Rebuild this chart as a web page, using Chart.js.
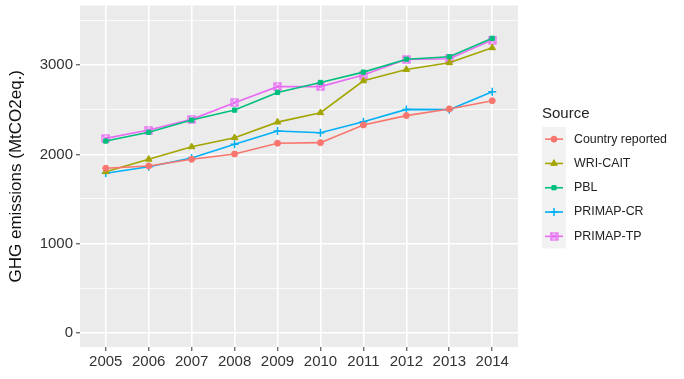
<!DOCTYPE html>
<html>
<head>
<meta charset="utf-8">
<script src="https://cdn.jsdelivr.net/npm/chart.js@4/dist/chart.umd.min.js"></script>
<style>
  body { margin: 0; background: #fff; }
  #wrap { width: 684px; height: 379px; }
</style>
</head>
<body>
<div id="wrap"><canvas id="ghgChart" width="684" height="379"></canvas></div>
<script>
// years on the x axis
const years = [2005, 2006, 2007, 2008, 2009, 2010, 2011, 2012, 2013, 2014];

// series values (MtCO2eq.)
const countryReported = [1845, 1870, 1945, 2005, 2125, 2132, 2330, 2435, 2510, 2602];
const wriCait = [1806, 1945, 2085, 2187, 2362, 2467, 2825, 2952, 3028, 3196];
const pbl = [2150, 2248, 2385, 2497, 2695, 2807, 2923, 3068, 3095, 3302];
const primapCr = [1788, 1862, 1960, 2113, 2262, 2243, 2366, 2505, 2502, 2702];
const primapTp = [2180, 2273, 2393, 2580, 2760, 2760, 2890, 3066, 3072, 3282];

const seriesNames = ['Country reported', 'WRI-CAIT', 'PBL', 'PRIMAP-CR', 'PRIMAP-TP'];
const seriesColors = ['#F8766D', '#A3A500', '#00BF7D', '#00B0F6', '#E76BF3'];

// y ticks (labelled every 1000, minor grid every 500)
const yTicks = [0, 500, 1000, 1500, 2000, 2500, 3000, 3500];

const fontFamily = '"Liberation Sans", Arial, sans-serif';

// ggplot shape 7: square with a cross inside
function boxCross(color) {
    const c = document.createElement('canvas');
    c.width = 9;
    c.height = 9;
    const g = c.getContext('2d');
    g.strokeStyle = color;
    g.lineWidth = 1.2;
    g.strokeRect(1, 1, 7, 7);
    g.beginPath();
    g.moveTo(1, 1); g.lineTo(8, 8);
    g.moveTo(8, 1); g.lineTo(1, 8);
    g.stroke();
    return c;
}

const pointStyles = ['circle', 'triangle', 'rect', 'cross', boxCross('#E76BF3')];
const pointRadii = [3, 3.8, 3, 4, 4];

const allValues = [countryReported, wriCait, pbl, primapCr, primapTp];

const datasets = seriesNames.map((name, i) => ({
    label: name,
    data: years.map((y, j) => ({ x: y, y: allValues[i][j] })),
    borderColor: seriesColors[i],
    backgroundColor: seriesColors[i],
    borderWidth: 1.6,
    pointStyle: pointStyles[i],
    pointRadius: pointRadii[i],
    pointBorderWidth: i === 3 ? 1.5 : 1,
    tension: 0,
}));

// grey panel behind the lines
const panelBg = {
    id: 'panelBg',
    beforeDraw(chart) {
        const { ctx, chartArea } = chart;
        ctx.save();
        ctx.fillStyle = '#EBEBEB';
        ctx.fillRect(chartArea.left, chartArea.top, chartArea.right - chartArea.left, chartArea.bottom - chartArea.top);
        ctx.restore();
    },
};

// ggplot-like legend on the right
const sideLegend = {
    id: 'sideLegend',
    afterDraw(chart) {
        const ctx = chart.ctx;
        const keyX = 542, keyW = 24, top = 127, rowH = 24.3;
        ctx.save();
        ctx.fillStyle = '#222';
        ctx.font = '15px ' + fontFamily;
        ctx.textBaseline = 'alphabetic';
        ctx.fillText('Source', 542, 118);

        ctx.fillStyle = '#F2F2F2';
        ctx.fillRect(keyX, top, keyW, rowH * seriesNames.length);

        chart.data.datasets.forEach((ds, i) => {
            const cy = top + rowH * i + rowH / 2;
            ctx.strokeStyle = ds.borderColor;
            ctx.lineWidth = 1.6;
            ctx.beginPath();
            ctx.moveTo(keyX + 3, cy);
            ctx.lineTo(keyX + keyW - 3, cy);
            ctx.stroke();
            ctx.fillStyle = ds.backgroundColor;
            ctx.lineWidth = ds.pointBorderWidth;
            Chart.helpers.drawPoint(ctx, {
                pointStyle: ds.pointStyle,
                radius: ds.pointRadius,
                rotation: 0,
                borderWidth: ds.pointBorderWidth,
            }, keyX + keyW / 2, cy);

            ctx.fillStyle = '#222';
            ctx.font = '12.4px ' + fontFamily;
            ctx.textBaseline = 'middle';
            ctx.fillText(ds.label, 574, cy);
        });
        ctx.restore();
    },
};

document.addEventListener('DOMContentLoaded', () => {
    const canvasElement = document.getElementById('ghgChart');
    const ctxChart = canvasElement.getContext('2d');

    new Chart(ctxChart, {
        type: 'line',
        data: { datasets: datasets },
        options: {
            responsive: false,
            animation: false,
            layout: { padding: { left: 0, right: 166, top: 5, bottom: 0 } },
            plugins: {
                legend: { display: false },
                tooltip: { enabled: false },
            },
            scales: {
                x: {
                    type: 'linear',
                    min: 2004.4,
                    max: 2014.6,
                    afterBuildTicks: (scale) => {
                        scale.ticks = years.map((v) => ({ value: v }));
                    },
                    afterFit: (scale) => {
                        scale.height = 32;
                        scale.paddingLeft = 0;
                        scale.paddingRight = 0;
                    },
                    border: { display: false },
                    grid: {
                        color: '#FFFFFF',
                        lineWidth: 1.6,
                        drawTicks: true,
                        tickLength: 4,
                        tickColor: '#333333',
                        tickWidth: 1,
                    },
                    ticks: {
                        color: '#333333',
                        font: { family: fontFamily, size: 15 },
                        padding: 2,
                        maxRotation: 0,
                        autoSkip: false,
                        callback: (v) => String(v),
                    },
                },
                y: {
                    min: -160,
                    max: 3670,
                    afterBuildTicks: (scale) => {
                        scale.ticks = yTicks.map((v) => ({ value: v }));
                    },
                    afterFit: (scale) => {
                        scale.width = 80;
                        scale.paddingTop = 0;
                        scale.paddingBottom = 0;
                    },
                    border: { display: false },
                    grid: {
                        color: '#FFFFFF',
                        lineWidth: (c) => (c.tick && c.tick.value % 1000 === 0 ? 1.6 : 0.8),
                        drawTicks: true,
                        tickLength: 4,
                        tickColor: (c) => (c.tick && c.tick.value % 1000 === 0 ? '#333333' : 'rgba(0,0,0,0)'),
                        tickWidth: 1,
                    },
                    ticks: {
                        color: '#333333',
                        font: { family: fontFamily, size: 15 },
                        padding: 3,
                        autoSkip: false,
                        callback: (v) => (v % 1000 === 0 ? String(v) : ''),
                    },
                    title: {
                        display: true,
                        text: 'GHG emissions (MtCO2eq.)',
                        color: '#111111',
                        font: { family: fontFamily, size: 17 },
                        padding: { top: 6, bottom: 0 },
                    },
                },
            },
        },
        plugins: [panelBg, sideLegend],
    });
});
</script>
</body>
</html>
